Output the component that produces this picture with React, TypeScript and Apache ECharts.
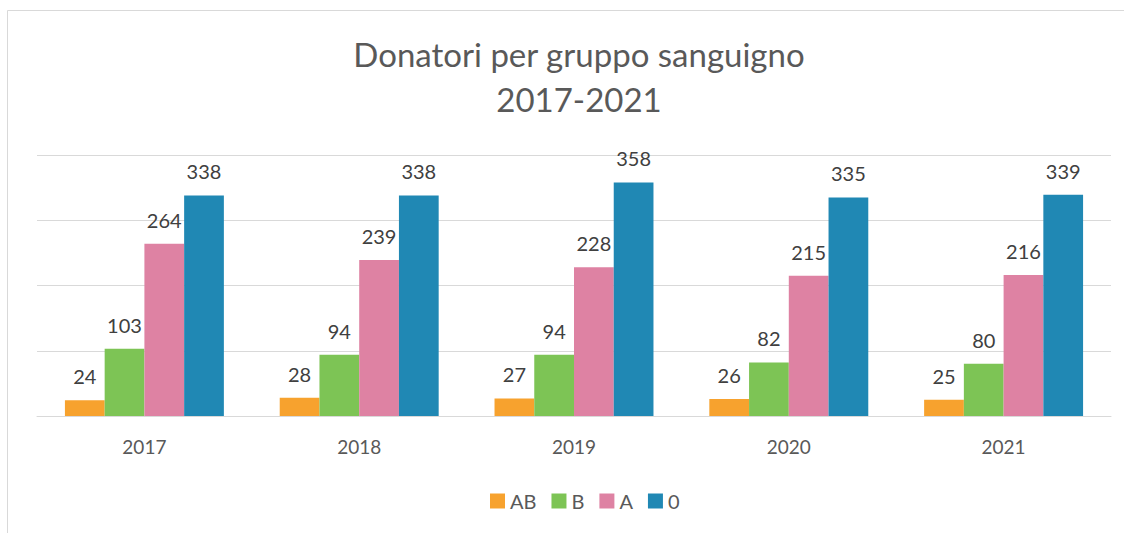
import React, { useEffect, useRef } from "react";
import * as echarts from "echarts";

const categories = ["2017", "2018", "2019", "2020", "2021"];
const seriesNames = ["AB", "B", "A", "0"];
const valuesAB = [24, 28, 27, 26, 25];
const valuesB = [103, 94, 94, 82, 80];
const valuesA = [264, 239, 228, 215, 216];
const values0 = [338, 338, 358, 335, 339];
const colors = ["#F7A22E", "#7DC455", "#DE82A3", "#2088B4"];

export default function App() {
  const ref = useRef<HTMLDivElement>(null);
  useEffect(() => {
    document.body.style.margin = "0";
    const chart = echarts.init(ref.current!, undefined, { renderer: "svg" });
    const font = "Lato, 'Open Sans', sans-serif";
    const data = [valuesAB, valuesB, valuesA, values0];
    chart.setOption({
      animation: false,
      textStyle: { fontFamily: font },
      title: {
        text: "Donatori per gruppo sanguigno\n2017-2021",
        left: 574,
        textAlign: "center",
        top: 26,
        textStyle: { fontSize: 33, lineHeight: 45, color: "#595959", fontWeight: "normal", fontFamily: font },
      },
      graphic: [
        {
          type: "rect",
          shape: { x: 7.5, y: 10.5, width: 1300, height: 700 },
          style: { fill: "none", stroke: "#d9d9d9", lineWidth: 1 },
          silent: true,
        },
      ],
      legend: {
        data: seriesNames,
        left: 485,
        top: 486,
        itemWidth: 15,
        itemHeight: 15,
        itemGap: 15,
        icon: "rect",
        textStyle: { fontSize: 20, color: "#595959", fontFamily: font },
      },
      grid: { left: 37, right: 13, top: 155, bottom: 117, containLabel: false },
      xAxis: {
        type: "category",
        data: categories,
        axisLine: { lineStyle: { color: "#d9d9d9" } },
        axisTick: { show: false },
        axisLabel: { fontSize: 19, color: "#595959", margin: 21, fontFamily: font },
      },
      yAxis: {
        type: "value",
        min: 0,
        max: 400,
        interval: 100,
        axisLabel: { show: false },
        axisLine: { show: false },
        axisTick: { show: false },
        splitLine: { lineStyle: { color: "#d9d9d9" } },
      },
      series: seriesNames.map((name, i) => ({
        name,
        type: "bar",
        data: data[i],
        barGap: "0%",
        barCategoryGap: "26%",
        itemStyle: { color: colors[i] },
        label: {
          show: true,
          position: "top",
          distance: 14,
          fontSize: 20,
          color: "#404040",
          fontFamily: font,
        },
      })),
    });
    return () => chart.dispose();
  }, []);
  return <div ref={ref} style={{ width: 1124, height: 533 }} />;
}
